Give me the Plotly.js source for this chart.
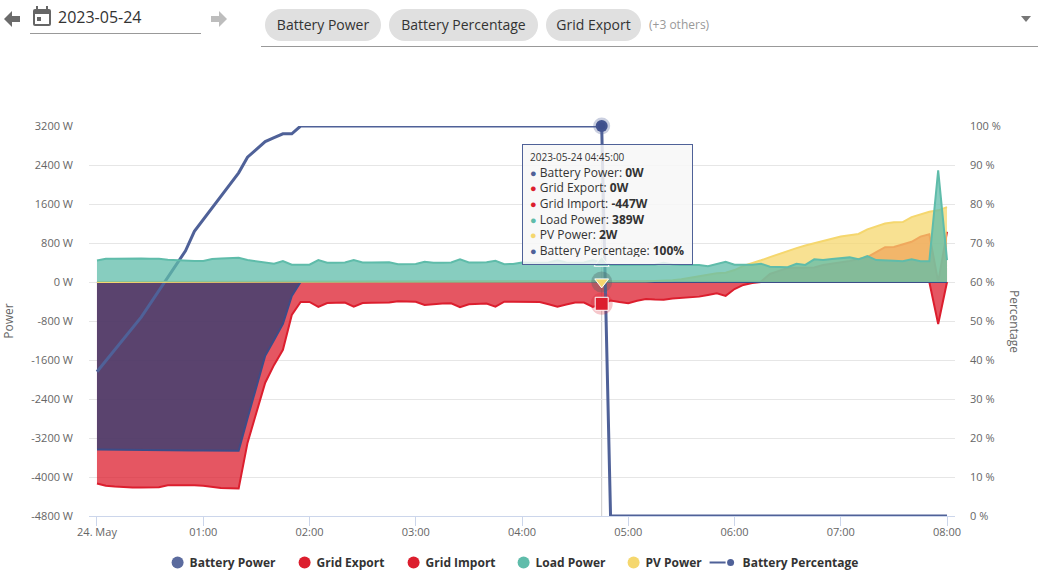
<!DOCTYPE html>
<html>
<head>
<meta charset="utf-8">
<script src="https://cdn.plot.ly/plotly-3.0.1.min.js"></script>
<style>
  body { margin: 0; background: #fff; font-family: "Open Sans", sans-serif; }
  #tester { position: absolute; left: 0; top: 0; width: 1049px; height: 577px; }
  .top { position: absolute; white-space: nowrap; z-index: 5; }
  .chip { top: 9px; height: 32px; line-height: 32px; border-radius: 16px; background: #e0e0e0;
          color: #333; font-size: 14px; text-align: center; }
  /* legend symbols sit closer to their text than plotly allows */
  .legend .legendsymbols { transform: translateX(8px); }
</style>
</head>
<body>
<div id="tester"></div>

<svg class="top" style="left:0;top:0" width="240" height="40">
  <polygon points="4,19 12,11 12,16 20,16 20,22 12,22 12,27" fill="#6b6b6b"/>
  <polygon points="227,19 219,11 219,16 211,16 211,22 219,22 219,27" fill="#bdbdbd"/>
  <rect x="33" y="9" width="18" height="17" rx="2" fill="#666"/>
  <rect x="36" y="6" width="2" height="5" fill="#666"/>
  <rect x="46" y="6" width="2" height="5" fill="#666"/>
  <rect x="35" y="14" width="14" height="10" fill="#fff"/>
  <rect x="37" y="17" width="4" height="4" fill="#666"/>
</svg>
<div class="top" style="left:58px;top:6px;font-size:16px;color:#333;line-height:22px">2023-05-24</div>
<div class="top" style="left:30px;top:33px;width:171px;height:1px;background:#999"></div>
<div class="top chip" style="left:265px;width:116px">Battery Power</div>
<div class="top chip" style="left:389px;width:149px">Battery Percentage</div>
<div class="top chip" style="left:546px;width:95px">Grid Export</div>
<div class="top" style="left:649px;top:16px;font-size:12px;color:#999;line-height:18px">(+3 others)</div>
<svg class="top" style="left:1020px;top:15px" width="12" height="8"><polygon points="1,1 11,1 6,7" fill="#777"/></svg>
<div class="top" style="left:261px;top:46px;width:777px;height:1px;background:#999"></div>

<script>
var START = '2023-05-24 00:00:00';
var STEP_MS = 300000;
var HOVER_TIME = '2023-05-24 04:45:00';

var batteryPower = [-3437,-3440,-3442,-3445,-3448,-3450,-3452,-3452,-3455,-3455,-3456,-3458,-3458,-3460,-3460,-3460,-3460,-2800,-2150,-1514,-1190,-860,-286,0,
  0,0,0,0,0,0,0,0,0,0,0,0,0,0,0,0,0,0,0,0,0,0,0,0,0,0,0,0,0,0,0,0,0,0,0,0,0,0,0,0,0,0,0,0,0,0,-10,0,0,0,0,0,0,0,0,0,0,0,0,0,0,0,-10,0,0,0,0,0,-10,0,0,0,0];
var gridExport = [0,0,0,0,0,0,0,0,0,0,0,0,0,0,0,0,0,0,0,0,0,0,0,0,0,0,0,0,0,0,0,0,0,0,0,0,0,0,0,0,0,0,0,0,0,0,0,0,0,0,0,0,0,0,0,0,0,0,0,0,0,0,0,0,0,0,0,0,0,0,0,0,0,0,0,
  10,165,230,285,290,295,300,350,375,400,430,470,510,615,715,720,770,825,930,980,0,1030];
var gridImport = [-4133,-4180,-4195,-4210,-4215,-4215,-4210,-4210,-4170,-4165,-4165,-4170,-4180,-4205,-4225,-4230,-4235,-3300,-2680,-2066,-1700,-1390,-675,-410,
  -410,-510,-430,-430,-420,-505,-430,-425,-420,-420,-395,-400,-405,-470,-450,-440,-435,-515,-455,-450,-440,-505,-405,-405,-405,-400,-410,-455,-505,-460,-420,-420,-510,-447,-380,-410,-435,-385,-350,-360,-365,-340,-330,-310,-300,-265,-230,-285,-145,-60,-20,
  0,0,0,0,0,0,0,0,0,0,0,0,0,0,0,0,0,0,0,0,-860,0];
var loadPower = [440,478,475,480,482,482,478,475,455,445,430,430,430,470,480,490,495,450,430,410,375,430,355,355,355,450,395,395,400,450,400,400,405,405,365,365,370,415,395,395,400,465,400,400,405,435,365,370,400,395,395,400,445,400,395,400,450,389,350,350,360,350,350,355,395,360,350,350,350,325,365,415,355,355,355,375,315,310,305,375,350,465,450,470,490,505,465,530,450,450,435,425,465,425,425,2290,450];
var pvPower = [0,0,0,0,0,0,0,0,0,0,0,0,0,0,0,0,0,0,0,0,0,0,0,0,0,0,0,0,0,0,0,0,0,0,0,0,0,0,0,0,0,0,0,0,0,0,0,0,0,0,0,0,0,0,0,0,0,2,
  5,8,10,12,15,20,25,35,55,85,115,150,180,190,245,330,380,445,510,575,640,695,750,800,850,895,935,960,985,1080,1135,1200,1225,1230,1330,1390,1440,1470,1535];
var batteryPercentage = [37,39.8,42.6,45.4,48.2,51,54.4,57.8,61.2,64.6,68,73,76,79,82,85,88,92,94,96,97,98,98,100,
  100,100,100,100,100,100,100,100,100,100,100,100,100,100,100,100,100,100,100,100,100,100,100,100,100,100,100,100,100,100,100,100,100,100,
  0,0,0,0,0,0,0,0,0,0,0,0,0,0,0,0,0,0,0,0,0,0,0,0,0,0,0,0,0,0,0,0,0,0,0,0,0,0,0];

var powerTicks = [3200,2400,1600,800,0,-800,-1600,-2400,-3200,-4000,-4800];
var powerLabels = ['3200 W','2400 W','1600 W','800 W','0 W','-800 W','-1600 W','-2400 W','-3200 W','-4000 W','-4800 W'];
var percentTicks = [0,10,20,30,40,50,60,70,80,90,100];
var percentLabels = ['0 %','10 %','20 %','30 %','40 %','50 %','60 %','70 %','80 %','90 %','100 %'];
var timeTicks = ['2023-05-24 00:00','2023-05-24 01:00','2023-05-24 02:00','2023-05-24 03:00','2023-05-24 04:00','2023-05-24 05:00','2023-05-24 06:00','2023-05-24 07:00','2023-05-24 08:00'];
var timeLabels = ['24. May','01:00','02:00','03:00','04:00','05:00','06:00','07:00','08:00'];
var timeRange = ['2023-05-23 23:55:30','2023-05-24 08:04:30'];
var powerRange = [-4800,3200];

var BLUE = '#4f6198', RED = '#dc1e2e', TEAL = '#5fbcaa', YELLOW = '#f5d76e';
var hoverIdx = 57;

function area(name, y, color, fill, yaxis) {
  return { x0: START, dx: STEP_MS, y: y, name: name, type: 'scatter', mode: 'lines', fill: 'tozeroy',
    fillcolor: fill, line: {color: color, width: 2}, yaxis: yaxis, showlegend: false, hoverinfo: 'skip' };
}
function dot(y, yaxis, symbol, size, color, border, bw) {
  return { x: [HOVER_TIME], y: [y], type: 'scatter', mode: 'markers', yaxis: yaxis, showlegend: false, hoverinfo: 'skip',
    cliponaxis: false, marker: {symbol: symbol, size: size, color: color, line: {color: border, width: bw}} };
}
function legendItem(name, color, mode, w) {
  return { x: [null], y: [null], name: name, type: 'scatter', mode: mode, yaxis: 'y', legendwidth: w,
    marker: {color: color, size: mode == 'markers' ? 12 : 7}, line: {color: color, width: 2} };
}

var data = [
  area('Grid Export', gridExport, RED, 'rgba(220,30,46,0.75)', 'y'),
  area('Grid Import', gridImport, RED, 'rgba(220,30,46,0.75)', 'y'),
  area('Battery Power', batteryPower, '#3c4c88', 'rgba(43,61,115,0.75)', 'y'),
  { x0: START, dx: STEP_MS, y: batteryPercentage, name: 'Battery Percentage', type: 'scatter', mode: 'lines',
    line: {color: BLUE, width: 3}, yaxis: 'y2', showlegend: false, hoverinfo: 'skip' },
  area('PV Power', pvPower, YELLOW, 'rgba(245,215,110,0.75)', 'y3'),
  area('Load Power', loadPower, TEAL, 'rgba(95,188,170,0.75)', 'y3'),
  dot(loadPower[hoverIdx], 'y3', 'triangle-up', 13, TEAL, '#fff', 1),
  dot(batteryPower[hoverIdx], 'y3', 'circle', 21, 'rgba(79,97,100,0.35)', 'rgba(0,0,0,0)', 0),
  dot(pvPower[hoverIdx], 'y3', 'triangle-down', 12, YELLOW, '#fff', 1),
  dot(gridImport[hoverIdx], 'y3', 'circle', 22, 'rgba(220,30,46,0.25)', 'rgba(0,0,0,0)', 0),
  dot(gridImport[hoverIdx], 'y3', 'square', 13, RED, '#fff', 1),
  dot(batteryPercentage[hoverIdx], 'y2', 'circle', 12, '#3e4f8c', 'rgba(79,97,152,0.3)', 5),
  legendItem('Battery Power', '#5b6b9e', 'markers', 82),
  legendItem('Grid Export', RED, 'markers', 64),
  legendItem('Grid Import', RED, 'markers', 65),
  legendItem('Load Power', TEAL, 'markers', 65),
  legendItem('PV Power', YELLOW, 'markers', 52),
  legendItem('Battery Percentage', BLUE, 'lines+markers', 115)
];

var tickFont = {family: 'Open Sans', size: 11, color: '#666'};
var titleFont = {family: 'Open Sans', size: 12, color: '#666'};
function bullet(color) { return '<span style="color:' + color + ';font-size:11px">●</span> '; }
var tooltip = '<span style="font-size:10px">2023-05-24 04:45:00</span><br>' +
  bullet(BLUE) + 'Battery Power: <b>' + batteryPower[hoverIdx] + 'W</b><br>' +
  bullet(RED) + 'Grid Export: <b>' + gridExport[hoverIdx] + 'W</b><br>' +
  bullet(RED) + 'Grid Import: <b>' + gridImport[hoverIdx] + 'W</b><br>' +
  bullet(TEAL) + 'Load Power: <b>' + loadPower[hoverIdx] + 'W</b><br>' +
  bullet(YELLOW) + 'PV Power: <b>' + pvPower[hoverIdx] + 'W</b><br>' +
  bullet(BLUE) + 'Battery Percentage: <b>' + batteryPercentage[hoverIdx] + '%</b>';

var layout = {
  width: 1049, height: 577,
  margin: {l: 89, r: 94, t: 125.5, b: 60.5, pad: 0},
  paper_bgcolor: '#fff', plot_bgcolor: '#fff',
  hovermode: false,
  font: {family: 'Open Sans', color: '#333'},
  xaxis: {type: 'date', range: timeRange, tickmode: 'array', tickvals: timeTicks, ticktext: timeLabels,
    tickfont: tickFont, ticks: 'outside', ticklen: 9, tickcolor: '#ccd6eb', tickwidth: 1, ticklabelstandoff: -3,
    showgrid: false, showline: true, linecolor: '#ccd6eb', linewidth: 1, zeroline: false},
  yaxis: {range: powerRange, tickmode: 'array', tickvals: powerTicks, ticktext: powerLabels, tickfont: tickFont,
    ticklabelstandoff: 15, showgrid: true, gridcolor: '#e6e6e6', gridwidth: 1, zeroline: false, showline: false,
    title: {text: 'Power', font: titleFont, standoff: 38}},
  yaxis2: {range: [0, 100], overlaying: 'y', side: 'right', tickmode: 'array', tickvals: percentTicks, ticktext: percentLabels,
    tickfont: tickFont, ticklabelstandoff: 14, showgrid: false, zeroline: false, showline: false},
  yaxis3: {range: powerRange, overlaying: 'y', visible: false},
  shapes: [{type: 'line', xref: 'x', yref: 'paper', x0: HOVER_TIME, x1: HOVER_TIME, y0: 0, y1: 1,
    line: {color: '#cccccc', width: 1}, layer: 'below'}],
  annotations: [
    {xref: 'paper', yref: 'paper', x: 0.5, y: 0.954, xanchor: 'left', yanchor: 'top', showarrow: false,
      align: 'left', width: 155, height: 105, text: tooltip, font: {family: 'Open Sans', size: 12, color: '#333'},
      bgcolor: 'rgba(247,247,247,0.85)', bordercolor: BLUE, borderwidth: 1, borderpad: 7},
    {xref: 'paper', yref: 'paper', x: 1.0693, y: 0.5, xanchor: 'center', yanchor: 'middle', showarrow: false,
      textangle: 90, text: 'Percentage', font: titleFont}
  ],
  showlegend: true,
  legend: {orientation: 'h', xref: 'container', yref: 'container', x: 0.1426, xanchor: 'left', y: 0.0, yanchor: 'bottom',
    font: {family: 'Open Sans', size: 12, color: '#333', weight: 700}, itemwidth: 30, traceorder: 'normal'}
};

Plotly.newPlot('tester', data, layout, {displayModeBar: false}).then(function () {
  // shorter line sample for the percentage legend entry
  document.querySelectorAll('.legendlines path').forEach(function (p) { p.setAttribute('d', 'M7,0h16'); });
});
</script>
</body>
</html>
